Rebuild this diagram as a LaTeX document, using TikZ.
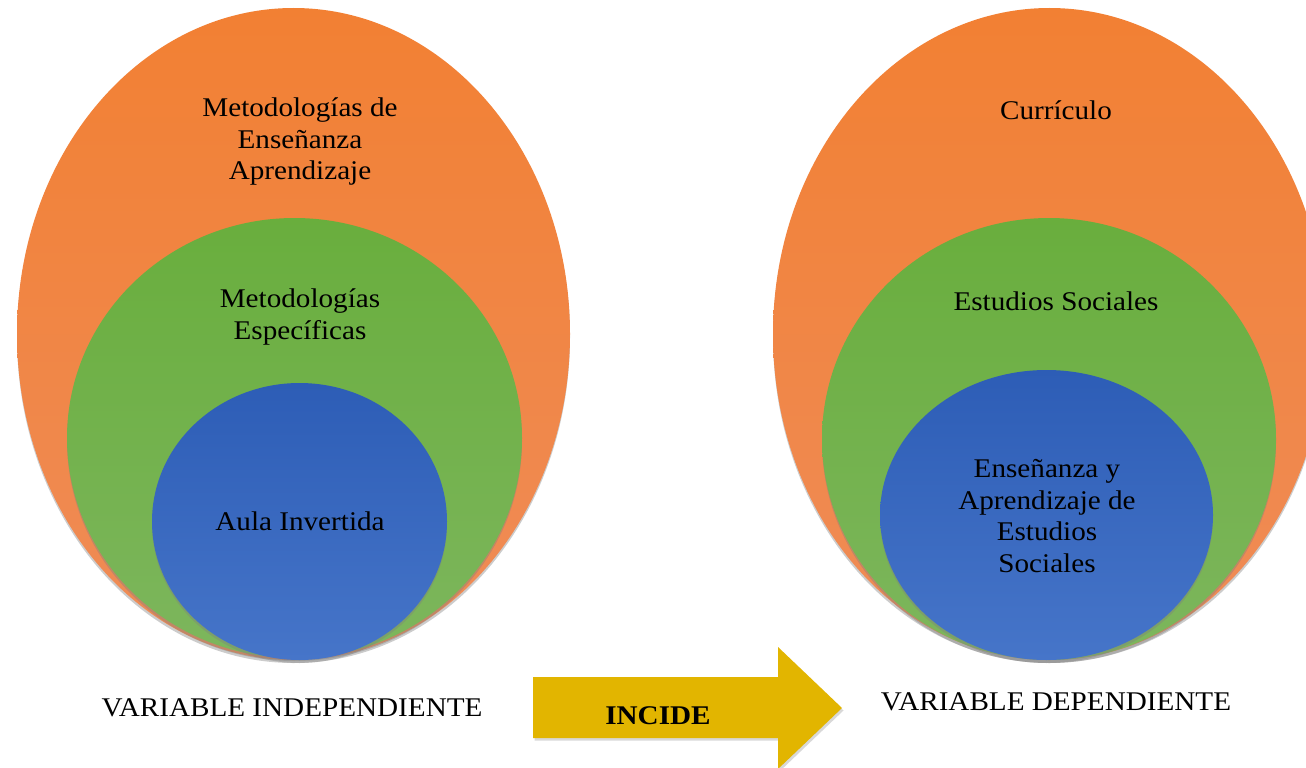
\documentclass[tikz,border=0pt]{standalone}
\usepackage{fontspec}
\setmainfont{Liberation Serif}
\usetikzlibrary{shapes.geometric,shadows}
\definecolor{orTop}{HTML}{F28033}
\definecolor{orBot}{HTML}{EF8C58}
\definecolor{grTop}{HTML}{69AE3D}
\definecolor{grBot}{HTML}{7DB65D}
\definecolor{blTop}{HTML}{2D5DB6}
\definecolor{blBot}{HTML}{4675C9}
\definecolor{arrowGold}{HTML}{E2B500}
\tikzset{
  oval/.style={ellipse, inner sep=0pt, draw=none,
    drop shadow={opacity=0.4, shadow xshift=0pt, shadow yshift=-3pt}},
  orangeoval/.style={oval, top color=orTop, bottom color=orBot},
  greenoval/.style={oval, top color=grTop, bottom color=grBot},
  blueoval/.style={oval, top color=blTop, bottom color=blBot},
  lbl/.style={align=center, inner sep=0pt, xscale=1.08, transform shape,
    font=\fontsize{27}{31.5}\selectfont},
}
\begin{document}
\begin{tikzpicture}[x=1pt,y=-1pt]
\useasboundingbox (0,0) rectangle (1306,768);
\fill[white] (0,0) rectangle (1306,768);
\begin{scope}
\clip (0,0) rectangle (1306,768);
% left group
\node[orangeoval, minimum width=553pt, minimum height=652pt] (lo) at (293.5,334) {};
\node[greenoval, minimum width=455pt, minimum height=440pt] (lg) at (294.5,438) {};
\node[blueoval, minimum width=295pt, minimum height=277pt] (lb) at (299.5,521.5) {};
% right group
\node[orangeoval, minimum width=553pt, minimum height=652pt] (ro) at (1049.5,334) {};
\node[greenoval, minimum width=454pt, minimum height=442pt] (rg) at (1049,439) {};
\node[blueoval, minimum width=333pt, minimum height=290pt] (rb) at (1046.5,515) {};
\end{scope}
% texts
\node[lbl] (t1) at (300,141.5) {Metodologías de\\Enseñanza\\Aprendizaje};
\node[lbl] (t2) at (300,317) {Metodologías\\Específicas};
\node[lbl] (t3) at (300,521) {Aula Invertida};
\node[lbl] (t4) at (1056,110) {Currículo};
\node[lbl] (t5) at (1056,301) {Estudios Sociales};
\node[lbl] (t6) at (1047,516) {Enseñanza y\\Aprendizaje de\\Estudios\\Sociales};
\node[lbl] (vi) at (292,708) {VARIABLE INDEPENDIENTE};
\node[lbl] (vd) at (1056,702) {VARIABLE DEPENDIENTE};
% arrow
\coordinate (a1) at (533,677);
\coordinate (a2) at (778,677);
\coordinate (a3) at (778,647);
\coordinate (tip) at (842,708);
\coordinate (a5) at (778,769);
\coordinate (a6) at (778,738);
\coordinate (a7) at (533,738);
\fill[arrowGold, drop shadow={opacity=0.3, shadow xshift=1.5pt, shadow yshift=-2.5pt}]
  (a1) -- (a2) -- (a3) -- (tip) -- (a5) -- (a6) -- (a7) -- cycle;
\node[lbl, font=\fontsize{27}{31.5}\selectfont\bfseries] (inc) at (658,716) {INCIDE};
\end{tikzpicture}
\end{document}
